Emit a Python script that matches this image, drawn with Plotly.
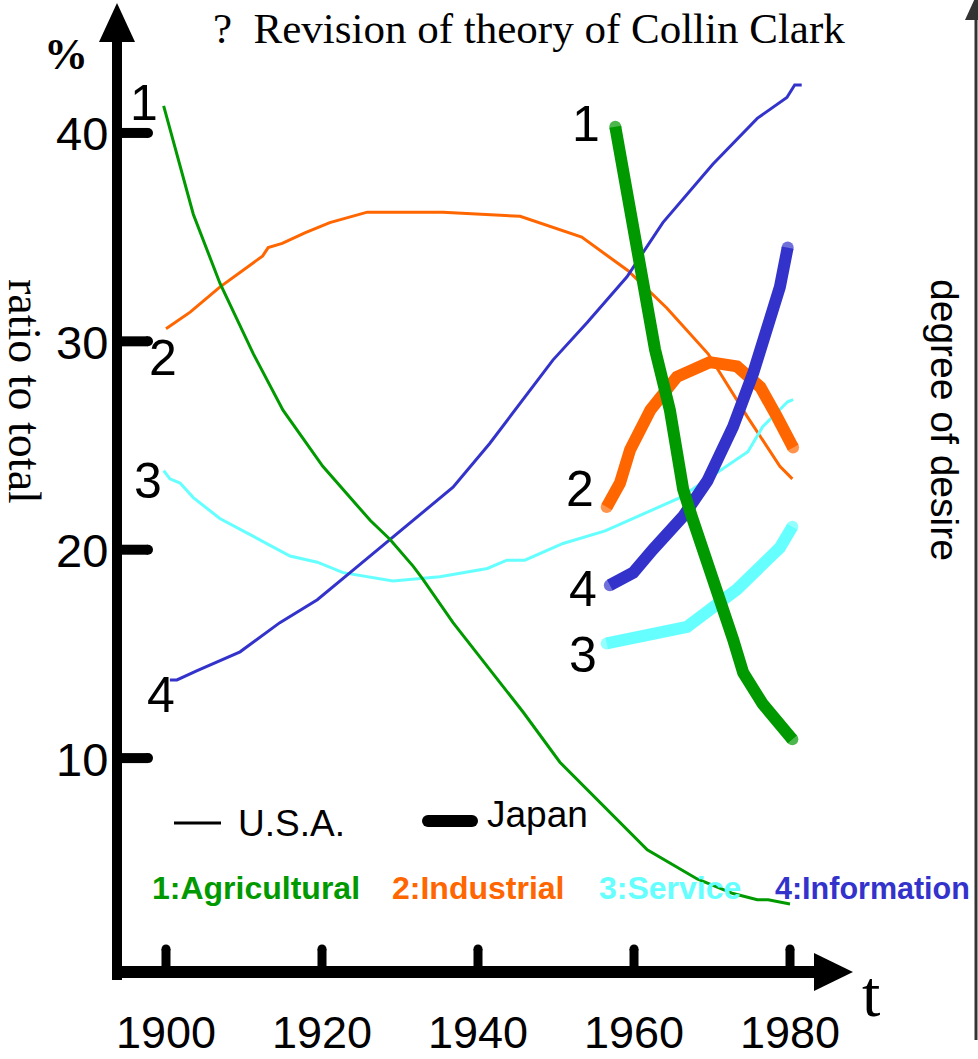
import plotly.graph_objects as go

W, H = 978, 1059
X_RANGE = [1878.72, 2004.10]
Y_RANGE = [-4.44, 46.38]

# ---------------- data ----------------
year_ticks = [1900, 1920, 1940, 1960, 1980]
value_ticks = [10, 20, 30, 40]

usa_agri_year = [1899.7, 1903.5, 1906.9, 1911.2, 1915.0, 1920.1, 1926.2, 1928.7, 1931.7, 1932.9,
                 1936.8, 1945.8, 1950.5, 1961.7, 1968.1, 1972.7, 1975.8, 1977.2, 1980.0]
usa_agri_val = [41.3, 36.1, 32.8, 29.4, 26.7, 24.0, 21.4, 20.5, 19.2, 18.6,
                16.5, 12.2, 9.8, 5.6, 4.2, 3.5, 3.2, 3.2, 3.0]

usa_ind_year = [1900.0, 1903.1, 1906.9, 1909.5, 1912.4, 1913.1, 1914.9, 1917.8, 1921.0, 1925.8,
                1930.0, 1935.5, 1945.4, 1953.3, 1959.2, 1964.2, 1969.5, 1974.5, 1978.7, 1980.3]
usa_ind_val = [30.6, 31.4, 32.6, 33.3, 34.1, 34.5, 34.7, 35.2, 35.7, 36.2,
               36.2, 36.2, 36.0, 35.0, 33.4, 31.6, 29.4, 26.4, 24.0, 23.4]

usa_srv_year = [1899.7, 1900.5, 1901.8, 1903.5, 1906.9, 1909.9, 1912.9, 1915.9, 1919.4, 1922.7,
                1929.1, 1935.1, 1941.2, 1943.7, 1946.0, 1950.9, 1956.3, 1965.9, 1974.6, 1976.5,
                1979.7, 1980.4]
usa_srv_val = [23.8, 23.4, 23.2, 22.5, 21.5, 20.9, 20.3, 19.7, 19.4, 18.9,
               18.5, 18.7, 19.1, 19.5, 19.5, 20.3, 20.9, 22.5, 24.7, 25.9,
               27.1, 27.2]

usa_inf_year = [1900.5, 1901.4, 1904.0, 1909.5, 1914.6, 1919.4, 1923.6, 1928.7, 1930.4, 1936.8,
                1941.5, 1945.6, 1949.6, 1954.0, 1959.1, 1963.7, 1970.1, 1975.8, 1979.6, 1980.6,
                1981.5]
usa_inf_val = [13.75, 13.75, 14.2, 15.1, 16.5, 17.6, 18.9, 20.5, 21.0, 23.0,
               25.1, 27.1, 29.1, 30.9, 33.1, 35.7, 38.5, 40.7, 41.7, 42.3,
               42.3]

jp_agri_year = [1957.6, 1962.7, 1964.6, 1966.3, 1967.4, 1969.4, 1970.1, 1972.7, 1974.0, 1976.5, 1980.3]
jp_agri_val = [40.3, 29.6, 26.7, 22.9, 21.6, 19.5, 18.4, 15.7, 14.1, 12.6, 10.9]

jp_ind_year = [1956.5, 1958.2, 1959.5, 1962.1, 1965.5, 1969.7, 1973.2, 1976.2, 1978.3, 1980.4]
jp_ind_val = [22.05, 23.2, 24.8, 26.7, 28.3, 29.0, 28.8, 27.8, 26.4, 24.9]

jp_srv_year = [1956.5, 1960.8, 1966.8, 1973.2, 1978.7, 1980.3]
jp_srv_val = [15.5, 15.8, 16.3, 18.1, 20.1, 21.1]

jp_inf_year = [1956.9, 1959.9, 1962.4, 1966.3, 1969.4, 1972.7, 1975.3, 1977.8, 1978.7, 1979.7]
jp_inf_val = [18.3, 18.9, 20.0, 21.6, 23.3, 25.9, 28.5, 31.4, 32.6, 34.5]

category_labels = ["1:Agricultural", "2:Industrial", "3:Service", "4:Information"]
country_labels = ["U.S.A.", "Japan"]

# ---------------- styling ----------------
GREEN, ORANGE, CYAN, BLUE = "#009900", "#ff6600", "#66ffff", "#3333cc"
SANS = "Liberation Sans, Arial, sans-serif"
SERIF = "Liberation Serif, Times New Roman, serif"


def px(x):
    return x / W


def py(y):
    return 1 - y / H


fig = go.Figure()


def add_line(xs, ys, color, width, caps=False):
    n = len(xs)
    if caps:
        sizes = [width] + [0] * (n - 2) + [width]
        fig.add_trace(go.Scatter(x=xs, y=ys, mode="lines+markers",
                                 line=dict(color=color, width=width),
                                 marker=dict(size=sizes, color=color, line=dict(width=0)),
                                 hoverinfo="skip", showlegend=False))
    else:
        fig.add_trace(go.Scatter(x=xs, y=ys, mode="lines",
                                 line=dict(color=color, width=width),
                                 hoverinfo="skip", showlegend=False))


# thin U.S.A. lines
add_line(usa_ind_year, usa_ind_val, ORANGE, 3)
add_line(usa_srv_year, usa_srv_val, CYAN, 3)
add_line(usa_inf_year, usa_inf_val, BLUE, 3)
add_line(usa_agri_year, usa_agri_val, GREEN, 3)
# thick Japan lines
add_line(jp_ind_year, jp_ind_val, ORANGE, 12, caps=True)
add_line(jp_srv_year, jp_srv_val, CYAN, 12, caps=True)
add_line(jp_inf_year, jp_inf_val, BLUE, 12, caps=True)
add_line(jp_agri_year, jp_agri_val, GREEN, 12, caps=True)

shapes = []
# y axis + arrow
shapes.append(dict(type="line", xref="paper", yref="paper", x0=px(117), x1=px(117),
                   y0=py(40), y1=py(980), line=dict(color="black", width=10)))
shapes.append(dict(type="path", xref="paper", yref="paper",
                   path=f"M {px(117)},{py(3)} L {px(99)},{py(42)} L {px(135)},{py(42)} Z",
                   fillcolor="black", line=dict(width=0)))
# x axis + arrow
shapes.append(dict(type="line", xref="paper", yref="paper", x0=px(112), x1=px(822),
                   y0=py(972), y1=py(972), line=dict(color="black", width=12)))
shapes.append(dict(type="path", xref="paper", yref="paper",
                   path=f"M {px(853)},{py(972)} L {px(814)},{py(953)} L {px(814)},{py(991)} Z",
                   fillcolor="black", line=dict(width=0)))
# x ticks
for yr in year_ticks:
    shapes.append(dict(type="line", xref="x", yref="paper", x0=yr, x1=yr,
                       y0=py(949), y1=py(972), line=dict(color="black", width=9)))
    shapes.append(dict(type="circle", xref="x", yref="paper", xsizemode="pixel", ysizemode="pixel",
                       xanchor=yr, yanchor=py(949), x0=-4.5, x1=4.5, y0=-4.5, y1=4.5,
                       fillcolor="black", line=dict(width=0)))
# y ticks
for v in value_ticks:
    shapes.append(dict(type="line", xref="paper", yref="y", x0=px(117), x1=px(148),
                       y0=v, y1=v, line=dict(color="black", width=10)))
    shapes.append(dict(type="circle", xref="paper", yref="y", xsizemode="pixel", ysizemode="pixel",
                       xanchor=px(148), yanchor=v, x0=-5, x1=5, y0=-5, y1=5,
                       fillcolor="black", line=dict(width=0)))
# right-hand "degree of desire" axis
shapes.append(dict(type="line", xref="paper", yref="paper", x0=px(976), x1=px(976),
                   y0=py(-2), y1=py(1040), line=dict(color="#333333", width=3)))
shapes.append(dict(type="path", xref="paper", yref="paper",
                   path=f"M {px(965)},{py(20)} L {px(976)},{py(-4)} L {px(987)},{py(20)} Z",
                   fillcolor="#333333", line=dict(width=0)))
# legend line samples
shapes.append(dict(type="line", xref="paper", yref="paper", x0=px(174), x1=px(221),
                   y0=py(823), y1=py(823), line=dict(color="black", width=3)))
shapes.append(dict(type="line", xref="paper", yref="paper", x0=px(428), x1=px(472),
                   y0=py(821), y1=py(821), line=dict(color="black", width=12)))
for cx in (428, 472):
    shapes.append(dict(type="circle", xref="paper", yref="paper", xsizemode="pixel", ysizemode="pixel",
                       xanchor=px(cx), yanchor=py(821), x0=-6, x1=6, y0=-6, y1=6,
                       fillcolor="black", line=dict(width=0)))

ann = []


def text(x, y, s, size, family=SANS, color="black", xanchor="center", angle=0, bold=False):
    if bold:
        s = f"<b>{s}</b>"
    ann.append(dict(x=px(x), y=py(y), xref="paper", yref="paper", text=s, showarrow=False,
                    xanchor=xanchor, yanchor="middle", textangle=angle,
                    font=dict(family=family, size=size, color=color)))


# tick labels (positioned by the axis scales)
for yr in year_ticks:
    ann.append(dict(x=yr, y=py(1032.5), xref="x", yref="paper", text=str(yr), showarrow=False,
                    xanchor="center", yanchor="middle", borderpad=0,
                    font=dict(family=SANS, size=45, color="black")))
for v in value_ticks:
    ann.append(dict(x=px(110), y=v, xref="paper", yref="y", text=str(v), showarrow=False,
                    xanchor="right", yanchor="middle", yshift=-1,
                    font=dict(family=SANS, size=47, color="black")))

# titles and axis names
text(211, 29, "?\u00a0\u00a0Revision of theory of Collin Clark", 43, family=SERIF, xanchor="left")
text(66, 54, "<b>%</b>", 44, family=SERIF)
text(25, 391, "ratio to total", 46, family=SERIF, angle=90)
text(945, 420, "degree of desire", 39, angle=90)
text(871, 993, "t", 66, family=SERIF)

# series number labels
for (x, y, s) in [(144, 103, "1"), (163, 358, "2"), (148, 481, "3"), (161, 695, "4"),
                  (586, 124, "1"), (580, 489, "2"), (583, 589, "4"), (583, 655, "3")]:
    text(x, y, s, 50)

# legend texts
text(236, 823, country_labels[0], 37, xanchor="left")
text(485, 814, country_labels[1], 37, xanchor="left")
for (x, s, c, fs) in zip([150, 390, 597, 773], category_labels, [GREEN, ORANGE, CYAN, BLUE],
                         [32, 32, 32, 30.5]):
    text(x, 888, s, fs, color=c, xanchor="left", bold=True)

fig.update_layout(
    width=W, height=H,
    margin=dict(l=0, r=0, t=0, b=0),
    paper_bgcolor="white", plot_bgcolor="white",
    xaxis=dict(range=X_RANGE, visible=False, fixedrange=True),
    yaxis=dict(range=Y_RANGE, visible=False, fixedrange=True),
    showlegend=False,
    shapes=shapes,
    annotations=ann,
)

fig.write_html("out.html", config={"displayModeBar": False},
               post_script="document.body.style.margin='0';document.body.style.overflow='hidden';")
